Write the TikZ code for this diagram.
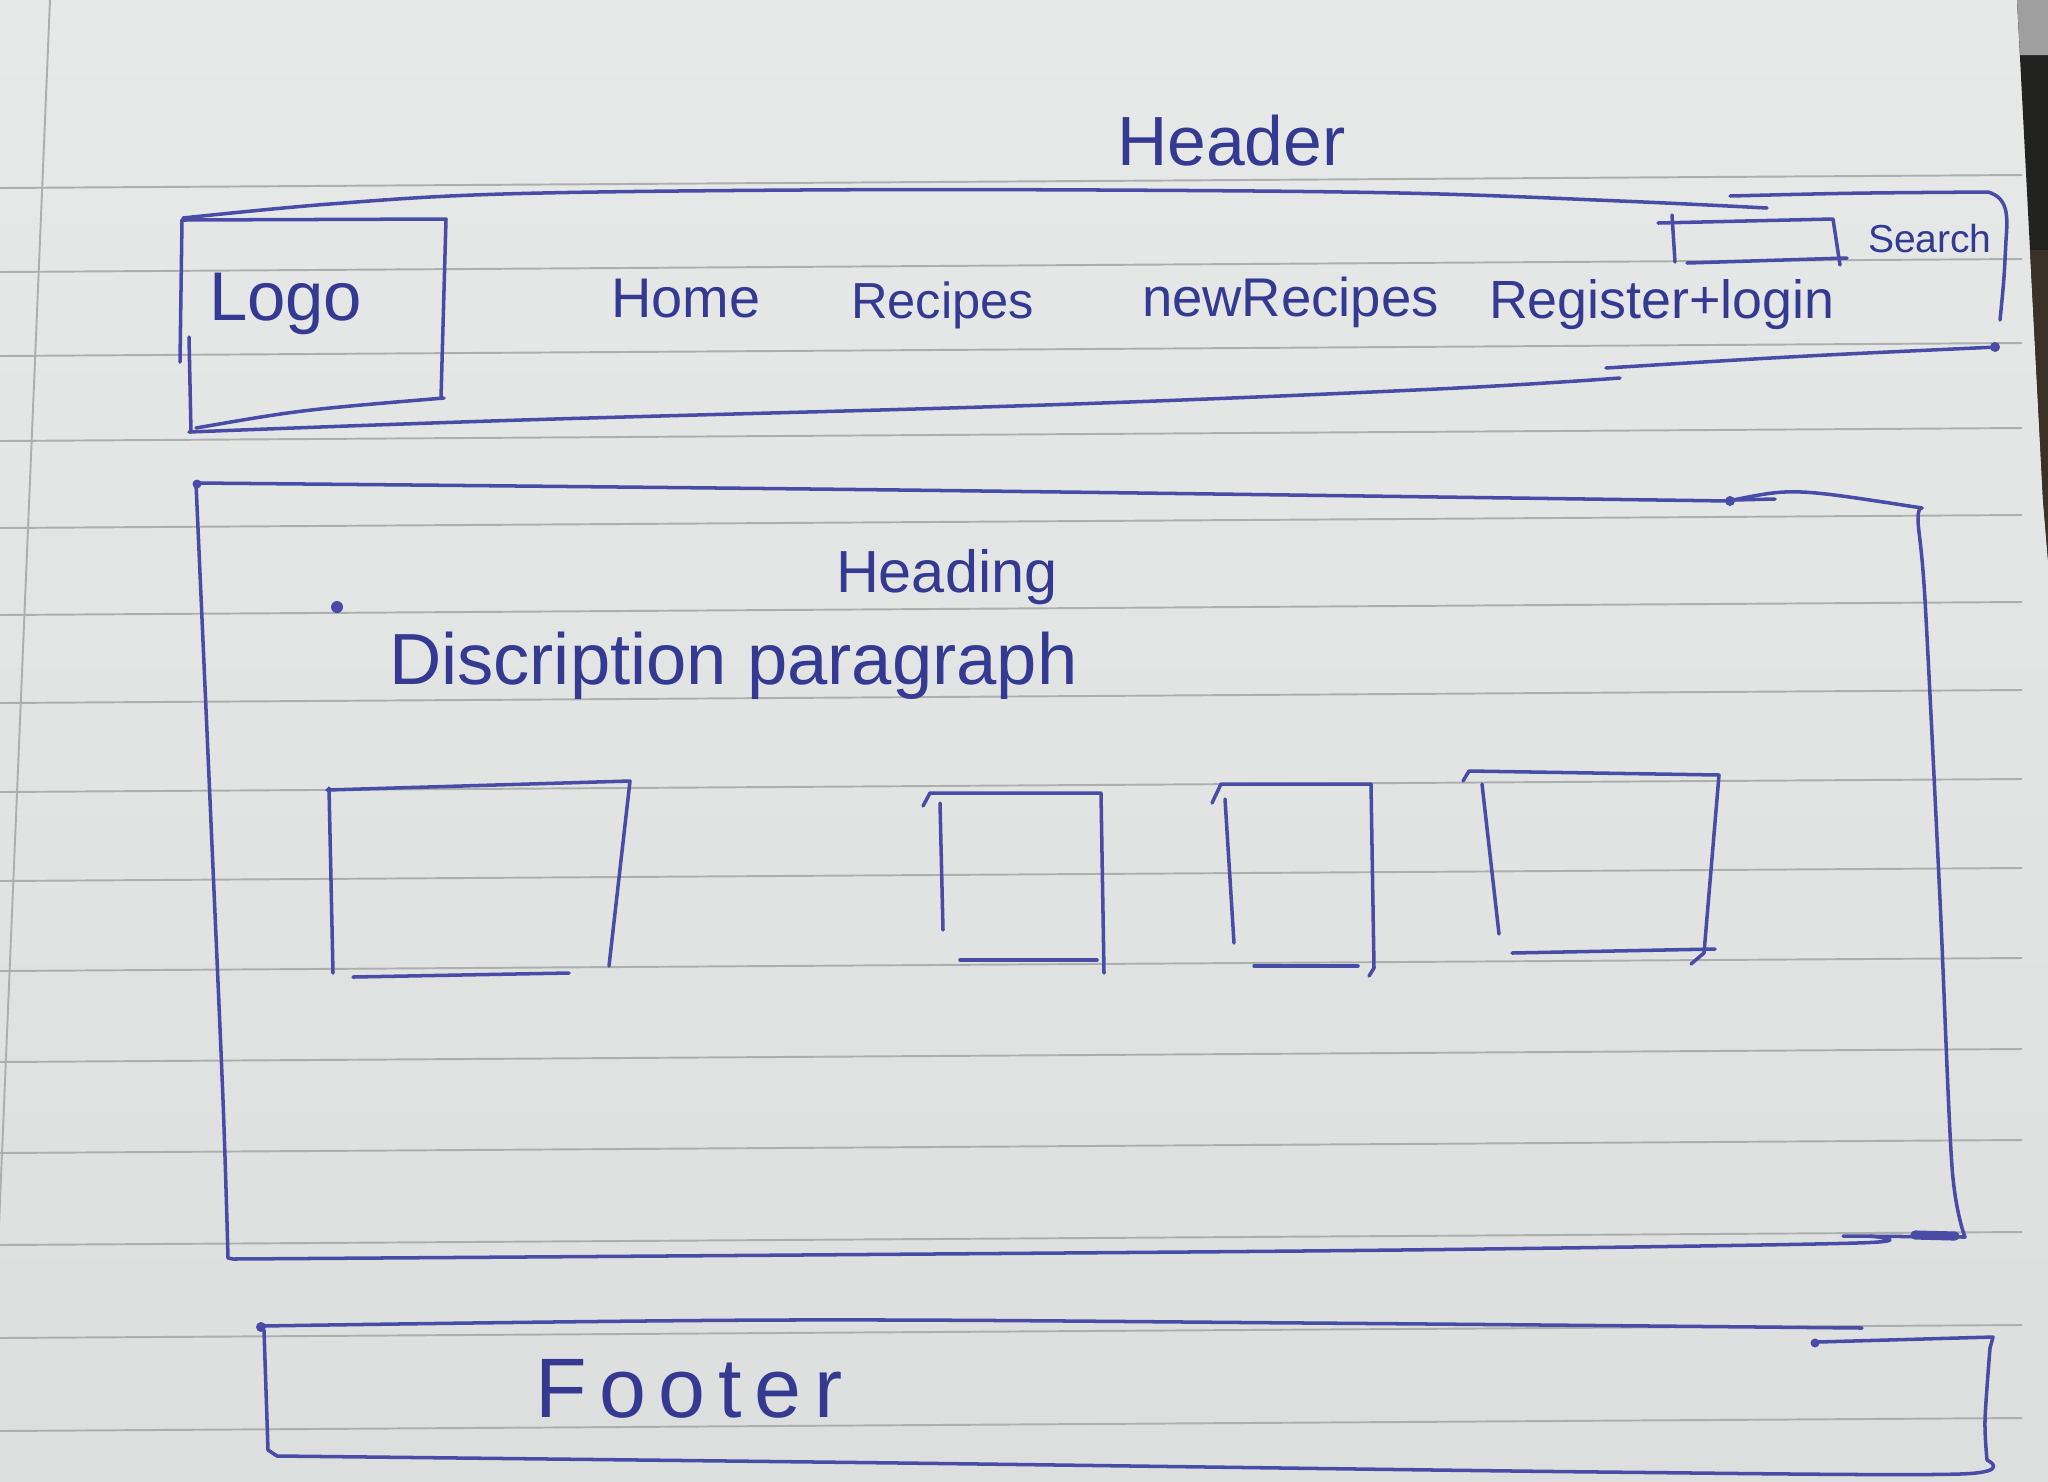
\documentclass[tikz,border=0pt]{standalone}
\usepackage{fontspec}
\setmainfont{Liberation Sans}
\newfontfamily\wideink[LetterSpace=15]{Liberation Sans}
\definecolor{papertop}{RGB}{231,233,232}
\definecolor{paperbot}{RGB}{221,223,222}
\definecolor{rulecol}{RGB}{172,175,174}
\definecolor{ink}{RGB}{72,76,166}
\definecolor{inktext}{RGB}{52,57,146}
\definecolor{desk}{RGB}{34,34,32}
\definecolor{deskbrown}{RGB}{58,50,38}
\begin{document}
\begin{tikzpicture}[x=0.01cm,y=-0.01cm,
  pen/.style={draw=ink,line width=1pt,line cap=round,line join=round},
  rule/.style={draw=rulecol,line width=0.55pt},
  word/.style={text=inktext,inner sep=0pt,outer sep=0pt,anchor=base west},
  blot/.style={fill=ink}]
\useasboundingbox (0,0) rectangle (2048,1481);

% sheet of ruled paper
\shade[top color=papertop,bottom color=paperbot] (0,0) rectangle (2048,1481);
% dark desk behind the top right edge of the sheet
\fill[desk] (2017,0) -- (2048,0) -- (2048,560) -- (2043,500) -- cycle;
\fill[deskbrown] (2030,250) -- (2048,250) -- (2048,560) -- (2043,500) -- cycle;
\fill[gray!75] (2017,0) -- (2048,0) -- (2048,55) -- (2020,55) -- cycle;
% margin line
\draw[rule] (50,0) -- (-2,1250);
% ruled lines
\foreach \yy in {187,271,355,440,527,614,702,791,880,970,1061,1152,1244,1337,1430}
  \draw[rule] (0,\yy+1) -- (2022,\yy-12);

% ---------- header bar ----------
\node[word,font=\fontsize{19.8pt}{24pt}\selectfont] (header) at (1117,165) {Header};
\draw[pen] plot[smooth,tension=0.6] coordinates {(183,218) (330,204) (503,194) (800,190) (1100,190) (1400,193) (1620,201) (1767,208)};
\draw[pen] (1730,196) .. controls (1850,193) .. (1988,192) .. controls (2008,198) and (2008,215) .. (2006,240) .. controls (2004,280) .. (2000,320);
\draw[pen] plot[smooth,tension=0.6] coordinates {(189,432) (522,420) (1045,405) (1437,389) (1620,378)};
\draw[pen] (1606,368) .. controls (1800,356) .. (1997,347);
\fill[blot] (1995,347) circle[radius=0.05cm];

% logo box
\draw[pen] (182,220) -- (446,219) -- (441,398);
\draw[pen] (444,398) .. controls (300,410) .. (196,428);
\draw[pen] (182,220) -- (180,362);
\draw[pen] (189,337) -- (191,432);
\node[word,font=\fontsize{19.6pt}{24pt}\selectfont] (logo) at (209,320) {Logo};

% navigation
\node[word,font=\fontsize{15.9pt}{20pt}\selectfont] (home) at (611,317) {Home};
\node[word,font=\fontsize{14.4pt}{18pt}\selectfont] (recipes) at (851,318) {Recipes};
\node[word,font=\fontsize{15.5pt}{19pt}\selectfont] (newrecipes) at (1142,316) {newRecipes};
\node[word,font=\fontsize{15.3pt}{19pt}\selectfont] (reglogin) at (1489,318) {Register+login};

% search field
\draw[pen] (1658,223) -- (1833,219) -- (1840,265);
\draw[pen] (1672,215) -- (1675,262);
\draw[pen] (1687,263) -- (1847,258);
\node[word,font=\fontsize{11.1pt}{14pt}\selectfont] (search) at (1868,252) {Search};

% ---------- content area ----------
\draw[pen] plot[smooth,tension=0.6] coordinates {(196,483) (900,490) (1730,501)};
\fill[blot] (1730,501) circle[radius=0.05cm];
\fill[blot] (197,484) circle[radius=0.045cm];
\draw[pen] (1733,500) -- (1775,499);
\draw[pen] (1733,500) .. controls (1793,488) .. (1922,508);
\draw[pen] plot[smooth,tension=0.5] coordinates {(1922,508) (1918,520) (1925,600) (1940,900) (1952,1167) (1965,1237)};
\draw[pen] (1843,1236) -- (1965,1237);
\draw[draw=ink,line width=2.6pt,line cap=round] (1915,1235) -- (1955,1236);
\draw[pen] plot[smooth,tension=0.5] coordinates {(233,1259) (800,1255) (1400,1250) (1857,1243) (1870,1236)};
\draw[pen] plot[smooth,tension=0.5] coordinates {(196,483) (210,800) (223,1100) (228,1258)} -- (233,1259);

\node[word,font=\fontsize{16.9pt}{20pt}\selectfont] (heading) at (836,592) {Heading};
\fill[blot] (337,607) circle[radius=0.06cm];
\node[word,font=\fontsize{20.6pt}{24pt}\selectfont] (desc) at (389,684) {Discription paragraph};

% card 1
\draw[pen] (327,790) -- (630,781) -- (609,966);
\draw[pen] (329,788) -- (333,973);
\draw[pen] (353,977) -- (569,973);
% card 2
\draw[pen] (923,806) -- (930,793) -- (1101,793) -- (1104,973);
\draw[pen] (940,803) -- (943,930);
\draw[pen] (960,960) -- (1097,960);
% card 3
\draw[pen] (1212,803) -- (1221,784) -- (1371,784) -- (1374,968) -- (1369,976);
\draw[pen] (1225,799) -- (1234,943);
\draw[pen] (1254,966) -- (1358,966);
% card 4
\draw[pen] (1463,781) -- (1469,771) -- (1719,775) -- (1704,953) -- (1691,964);
\draw[pen] (1482,784) -- (1499,934);
\draw[pen] (1512,953) -- (1715,949);

% ---------- footer ----------
\draw[pen] plot[smooth,tension=0.6] coordinates {(261,1326) (784,1320) (1306,1323) (1862,1328)};
\fill[blot] (261,1327) circle[radius=0.05cm];
\fill[blot] (1815,1343) circle[radius=0.045cm];
\draw[pen] (1818,1342) -- (1993,1337) -- (1990,1348);
\draw[pen] plot[smooth,tension=0.5] coordinates {(1990,1348) (1985,1420) (1987,1460)};
\draw[pen] (264,1330) -- (268,1450) -- (277,1456);
\draw[pen] plot[smooth,tension=0.5] coordinates {(277,1456) (900,1463) (1600,1472) (1960,1474) (1987,1460)};
\node[word,font=\wideink\fontsize{24pt}{28pt}\selectfont] (footer) at (535,1417) {Footer};
\end{tikzpicture}
\end{document}
